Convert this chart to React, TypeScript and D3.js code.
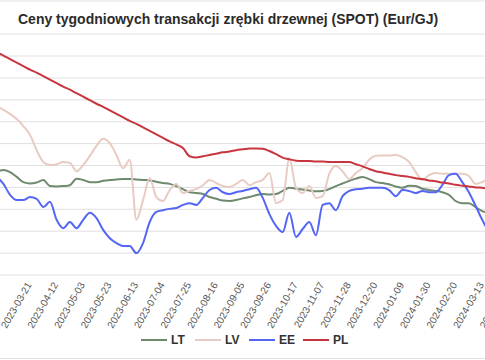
import React from "react";
import * as d3 from "d3";

const title = "Ceny tygodniowych transakcji zrębki drzewnej (SPOT) (Eur/GJ)";
const dateLabels = [
  "2023-03-21", "2023-04-12", "2023-05-03", "2023-05-23", "2023-06-13", "2023-07-04",
  "2023-07-25", "2023-08-16", "2023-09-05", "2023-09-26", "2023-10-17", "2023-11-07",
  "2023-11-28", "2023-12-20", "2024-01-09", "2024-01-30", "2024-02-20", "2024-03-13",
  "2024-04-03",
];
const seriesNames = ["LT", "LV", "EE", "PL"];
const seriesColors = ["#6d8a6f", "#e8cbc3", "#5566f5", "#c9353f"];
// sample positions: quarter-steps between labelled dates, starting 1.25 steps before the first label
const startOffset = -1.25;
const stepSize = 0.25;

const LT = [6.35, 6.40, 6.35, 6.24, 6.12, 6.09, 6.11, 6.17, 6.03, 6.02, 6.03, 6.05, 6.20, 6.17, 6.12,
  6.12, 6.15, 6.17, 6.18, 6.19, 6.19, 6.18, 6.17, 6.16, 6.13, 6.10, 6.08, 6.03, 5.96, 5.89,
  5.87, 5.85, 5.78, 5.74, 5.70, 5.69, 5.71, 5.75, 5.78, 5.82, 5.85, 5.84, 5.85, 5.92, 5.99,
  5.97, 5.95, 5.93, 5.91, 5.92, 5.96, 6.03, 6.09, 6.15, 6.20, 6.24, 6.19, 6.12, 6.10, 6.07,
  6.02, 5.99, 6.04, 6.03, 5.97, 5.94, 5.92, 5.89, 5.83, 5.69, 5.64, 5.64, 5.55, 5.46, 5.42];
const LV = [7.86, 7.77, 7.68, 7.56, 7.40, 7.20, 6.85, 6.58, 6.51, 6.53, 6.58, 6.56, 6.37, 6.51, 6.72,
  6.95, 7.11, 7.01, 6.74, 6.44, 6.63, 5.26, 5.71, 6.21, 5.78, 5.69, 5.94, 6.08, 5.87, 5.92,
  5.96, 6.05, 6.17, 6.10, 6.03, 6.01, 6.08, 6.17, 6.05, 6.12, 6.17, 6.33, 5.64, 5.71, 6.67,
  5.99, 5.87, 6.03, 5.76, 5.80, 6.31, 6.49, 6.37, 6.19, 6.33, 6.44, 6.63, 6.72, 6.73, 6.73,
  6.74, 6.69, 6.58, 6.35, 6.17, 6.28, 6.33, 6.31, 6.31, 6.31, 6.31, 6.26, 6.08, 6.12, 6.21];
const EE = [6.24, 6.08, 5.83, 5.71, 5.71, 5.78, 5.74, 5.55, 5.67, 5.26, 5.07, 5.21, 5.07, 5.26, 5.42,
  5.30, 5.03, 4.84, 4.73, 4.66, 4.66, 4.50, 4.73, 5.21, 5.44, 5.48, 5.51, 5.53, 5.60, 5.64,
  5.60, 5.76, 5.94, 5.99, 5.89, 5.85, 5.89, 5.92, 5.96, 5.99, 5.76, 5.39, 5.12, 4.98, 5.42,
  4.87, 5.05, 5.21, 4.91, 5.60, 5.64, 5.48, 5.80, 5.92, 5.96, 5.97, 5.99, 5.99, 5.99, 5.94,
  5.80, 5.94, 5.92, 5.87, 5.92, 5.89, 5.89, 6.05, 6.28, 6.31, 6.12, 5.89, 5.58, 5.26, 4.98];
const PL = [9.08, 9.01, 8.93, 8.85, 8.77, 8.69, 8.62, 8.54, 8.46, 8.38, 8.30, 8.23, 8.15, 8.07, 7.99,
  7.91, 7.84, 7.76, 7.68, 7.60, 7.52, 7.45, 7.37, 7.29, 7.21, 7.13, 7.05, 6.98, 6.90, 6.71,
  6.68, 6.71, 6.74, 6.77, 6.80, 6.82, 6.85, 6.87, 6.89, 6.89, 6.88, 6.83, 6.76, 6.68, 6.64,
  6.61, 6.60, 6.60, 6.59, 6.59, 6.58, 6.58, 6.58, 6.58, 6.53, 6.48, 6.42, 6.37, 6.34, 6.31,
  6.28, 6.26, 6.24, 6.21, 6.19, 6.16, 6.14, 6.11, 6.09, 6.06, 6.04, 6.02, 6.00, 5.99, 5.97];
const yTicks = [4, 4.5, 5, 5.5, 6, 6.5, 7, 7.5, 8, 8.5, 9, 9.5];

const W = 485;
const H = 360;

export default function App() {
  const x = d3.scaleLinear().domain([0, 1]).range([30, 56.6]);
  const y = d3.scaleLinear().domain([4, 9.5]).range([275, 34.1]);
  const allSeries = [LT, LV, EE, PL];
  const line = d3
    .line<number>()
    .x((_, i) => x(startOffset + i * stepSize))
    .y((d) => y(d))
    .curve(d3.curveMonotoneX);

  const legendX = d3.scaleLinear().domain([0, 1]).range([141, 195]);

  return (
    <svg
      width={W}
      height={H}
      style={{ position: "absolute", left: 0, top: 0, background: "#fff" }}
      fontFamily="'Liberation Sans', Arial, sans-serif"
    >
      <rect x={0} y={0} width={W} height={H} fill="#fff" />
      <line x1={0} x2={W} y1={1} y2={1} stroke="#e2e2e2" strokeWidth={1.2} />
      <line x1={0} x2={W} y1={358.5} y2={358.5} stroke="#e2e2e2" strokeWidth={1.2} />
      <text x={18} y={24} fontSize={14} fontWeight="bold" fill="#2b2b2b">
        {title}
      </text>
      {yTicks.map((t) => (
        <line key={t} x1={0} x2={W} y1={y(t)} y2={y(t)} stroke="#e0e0e0" strokeWidth={1} />
      ))}
      {allSeries.map((s, si) => (
        <path
          key={seriesNames[si]}
          d={line(s) || ""}
          fill="none"
          stroke={seriesColors[si]}
          strokeWidth={2}
          strokeLinejoin="round"
        />
      ))}
      {dateLabels.map((lab, i) => (
        <text
          key={lab}
          transform={`translate(${x(i) - 1},${283}) rotate(-60)`}
          textAnchor="end"
          dy="0.35em"
          fontSize={10}
          fill="#555"
        >
          {lab}
        </text>
      ))}
      {seriesNames.map((n, i) => (
        <g key={n} transform={`translate(${legendX(i)},340)`}>
          <line x1={0} x2={26} y1={0} y2={0} stroke={seriesColors[i]} strokeWidth={2} />
          <text x={30} y={0} dy="0.36em" fontSize={12} fontWeight="bold" fill="#333">
            {n}
          </text>
        </g>
      ))}
    </svg>
  );
}
